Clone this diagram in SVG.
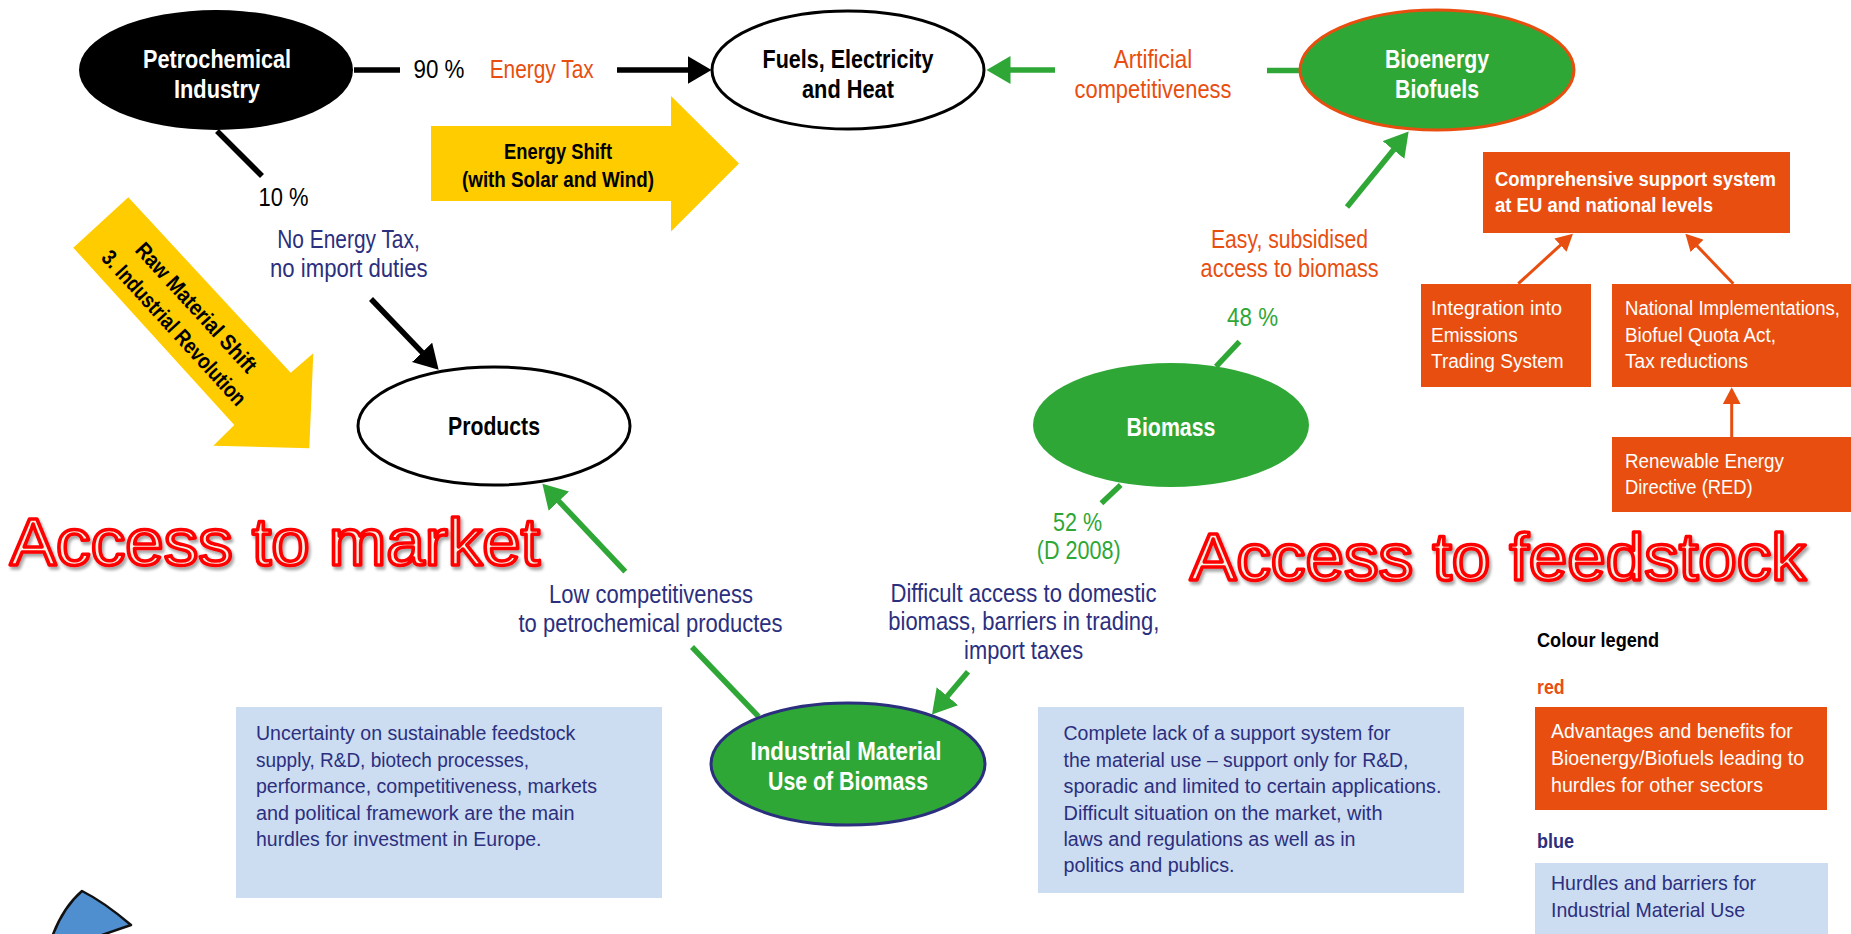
<svg xmlns="http://www.w3.org/2000/svg" width="1851" height="934" viewBox="0 0 1851 934">
<defs>
<style>
.t{font-family:'Liberation Sans Narrow','Liberation Sans',Arial,sans-serif;}
.nd{font-size:26px;font-weight:bold;text-anchor:middle;}
.lb{font-size:25px;text-anchor:middle;}
.bx{font-size:20px;fill:#2b2f7e;}
.ob{font-size:20px;fill:#fff;}
.lg{font-size:21px;}
.navy{fill:#2b2f7e;}
.org{fill:#e84e0f;}
.grn{fill:#2fa736;}
.wht{fill:#fff;}
.blk{fill:#000;}
.big{font-family:'Liberation Sans',Arial,sans-serif;font-size:66px;fill:#f6f2e6;stroke:#ff0000;stroke-width:3.5px;stroke-linejoin:round;filter:url(#sh);}
.cb{stroke:#000;stroke-width:5.5;fill:none;}
.cg{stroke:#2fa736;stroke-width:5.5;fill:none;}
.co{stroke:#e84e0f;stroke-width:3;fill:none;}
</style>
<filter id="sh" x="-5%" y="-20%" width="110%" height="150%">
<feDropShadow dx="2" dy="3" stdDeviation="1.5" flood-color="#000" flood-opacity="0.35"/>
</filter>
<marker id="mb" markerUnits="userSpaceOnUse" markerWidth="25" markerHeight="28" refX="0.5" refY="14" orient="auto"><path d="M0,0 L24,14 L0,28 Z" fill="#000"/></marker>
<marker id="mg" markerUnits="userSpaceOnUse" markerWidth="25" markerHeight="28" refX="0.5" refY="14" orient="auto"><path d="M0,0 L24,14 L0,28 Z" fill="#2fa736"/></marker>
<marker id="mo" markerUnits="userSpaceOnUse" markerWidth="18" markerHeight="18" refX="0.5" refY="9" orient="auto"><path d="M0,0 L17,9 L0,18 Z" fill="#e84e0f"/></marker>
</defs>
<rect x="0" y="0" width="1851" height="934" fill="#fff"/>

<!-- big arrows -->
<g id="energy-shift">
<polygon points="431,126 671,126 671,96 739,163.5 671,231.5 671,201 431,201" fill="#ffcc00"/>
<text class="t blk" font-size="22" font-weight="bold" text-anchor="middle" x="558" y="159" textLength="108" lengthAdjust="spacingAndGlyphs">Energy Shift</text>
<text class="t blk" font-size="22" font-weight="bold" text-anchor="middle" x="558" y="187" textLength="192" lengthAdjust="spacingAndGlyphs">(with Solar and Wind)</text>
</g>
<g id="raw-material-shift">
<polygon points="128.3,197.3 290.7,372.7 313.3,353.3 309.3,448.3 213.3,445.7 234.3,425 73.3,247.7" fill="#ffcc00"/>
<g transform="translate(187,316) rotate(47.5)">
<text class="t blk" font-size="22" font-weight="bold" text-anchor="middle" x="0" y="-5" textLength="168" lengthAdjust="spacingAndGlyphs">Raw Material Shift</text>
<text class="t blk" font-size="22" font-weight="bold" text-anchor="middle" x="0" y="25" textLength="202" lengthAdjust="spacingAndGlyphs">3. Industrial Revolution</text>
</g>
</g>

<!-- connectors -->
<g id="connectors">
<path class="cb" d="M354,70 H400"/>
<path class="cb" d="M617,70 H688" marker-end="url(#mb)"/>
<path class="cb" d="M217,131 L262,176"/>
<path class="cb" d="M371,299 L422.4,352.7" marker-end="url(#mb)"/>
<path class="cg" d="M1299,70.5 H1267"/>
<path class="cg" d="M1055,70 H1010" marker-end="url(#mg)"/>
<path class="cg" d="M1216,366.7 L1239.5,341.7"/>
<path class="cg" d="M1347,207 L1393.8,149.6" marker-end="url(#mg)"/>
<path class="cg" d="M758.6,716.7 L692,647"/>
<path class="cg" d="M625.3,571.7 L558.5,500.8" marker-end="url(#mg)"/>
<path class="cg" d="M1120.7,485 L1101.4,503.3"/>
<path class="cg" d="M968,671.7 L947.1,696.6" marker-end="url(#mg)"/>
<path class="co" d="M1518.3,283.7 L1560.8,244.8" marker-end="url(#mo)"/>
<path class="co" d="M1733.3,283.7 L1696.8,245.6" marker-end="url(#mo)"/>
<path class="co" d="M1731.7,437.3 L1731.7,403.7" marker-end="url(#mo)"/>
</g>

<!-- connector labels -->
<g id="labels">
<text class="t lb blk" x="439" y="78" textLength="51" lengthAdjust="spacingAndGlyphs">90 %</text>
<text class="t lb org" x="541.7" y="78" textLength="104" lengthAdjust="spacingAndGlyphs">Energy Tax</text>
<text class="t lb blk" x="283.6" y="206" textLength="50" lengthAdjust="spacingAndGlyphs">10 %</text>
<text class="t lb navy" x="348.5" y="248" textLength="142.5" lengthAdjust="spacingAndGlyphs">No Energy Tax,</text>
<text class="t lb navy" x="348.8" y="277" textLength="157.5" lengthAdjust="spacingAndGlyphs">no import duties</text>
<text class="t lb org" x="1153" y="68" textLength="78.5" lengthAdjust="spacingAndGlyphs">Artificial</text>
<text class="t lb org" x="1153" y="98" textLength="157" lengthAdjust="spacingAndGlyphs">competitiveness</text>
<text class="t lb org" x="1289.5" y="248" textLength="157" lengthAdjust="spacingAndGlyphs">Easy, subsidised</text>
<text class="t lb org" x="1289.6" y="277" textLength="178" lengthAdjust="spacingAndGlyphs">access to biomass</text>
<text class="t lb grn" x="1252.6" y="326" textLength="51" lengthAdjust="spacingAndGlyphs">48 %</text>
<text class="t lb grn" x="1077.6" y="531" textLength="49" lengthAdjust="spacingAndGlyphs">52 %</text>
<text class="t lb grn" x="1078.8" y="559" textLength="84" lengthAdjust="spacingAndGlyphs">(D 2008)</text>
<text class="t lb navy" x="651" y="603" textLength="204" lengthAdjust="spacingAndGlyphs">Low competitiveness</text>
<text class="t lb navy" x="650.5" y="632" textLength="264" lengthAdjust="spacingAndGlyphs">to petrochemical productes</text>
<text class="t lb navy" x="1023.5" y="602" textLength="266" lengthAdjust="spacingAndGlyphs">Difficult access to domestic</text>
<text class="t lb navy" x="1023.8" y="630" textLength="271" lengthAdjust="spacingAndGlyphs">biomass, barriers in trading,</text>
<text class="t lb navy" x="1023.6" y="659" textLength="119" lengthAdjust="spacingAndGlyphs">import taxes</text>
</g>

<!-- nodes -->
<g id="petrochemical">
<ellipse cx="216" cy="70" rx="137" ry="60" fill="#000"/>
<text class="t nd wht" x="217" y="68" textLength="148" lengthAdjust="spacingAndGlyphs">Petrochemical</text>
<text class="t nd wht" x="217" y="98" textLength="86" lengthAdjust="spacingAndGlyphs">Industry</text>
</g>
<g id="fuels">
<ellipse cx="848" cy="70" rx="136" ry="59" fill="#fff" stroke="#000" stroke-width="3"/>
<text class="t nd blk" x="848" y="68" textLength="171" lengthAdjust="spacingAndGlyphs">Fuels, Electricity</text>
<text class="t nd blk" x="848" y="98" textLength="92" lengthAdjust="spacingAndGlyphs">and Heat</text>
</g>
<g id="bioenergy">
<ellipse cx="1437" cy="70" rx="137" ry="60" fill="#2fa736" stroke="#e84e0f" stroke-width="3"/>
<text class="t nd wht" x="1437" y="68" textLength="104" lengthAdjust="spacingAndGlyphs">Bioenergy</text>
<text class="t nd wht" x="1437" y="98" textLength="84" lengthAdjust="spacingAndGlyphs">Biofuels</text>
</g>
<g id="products">
<ellipse cx="494" cy="426" rx="136" ry="59" fill="#fff" stroke="#000" stroke-width="3"/>
<text class="t nd blk" x="494" y="435" textLength="92" lengthAdjust="spacingAndGlyphs">Products</text>
</g>
<g id="biomass">
<ellipse cx="1171" cy="425" rx="138" ry="62" fill="#2fa736"/>
<text class="t nd wht" x="1171" y="436" textLength="89" lengthAdjust="spacingAndGlyphs">Biomass</text>
</g>
<g id="industrial-material">
<ellipse cx="848" cy="764" rx="137" ry="61" fill="#2fa736" stroke="#2b2f7e" stroke-width="3"/>
<text class="t nd wht" x="846" y="760" textLength="191" lengthAdjust="spacingAndGlyphs">Industrial Material</text>
<text class="t nd wht" x="848" y="790" textLength="160" lengthAdjust="spacingAndGlyphs">Use of Biomass</text>
</g>

<!-- orange support boxes -->
<g id="comprehensive">
<rect x="1483" y="152" width="307" height="81" fill="#e84e0f"/>
<text class="t ob" font-weight="bold" x="1495" y="186" textLength="281" lengthAdjust="spacingAndGlyphs">Comprehensive support system</text>
<text class="t ob" font-weight="bold" x="1495" y="212" textLength="218" lengthAdjust="spacingAndGlyphs">at EU and national levels</text>
</g>
<g id="integration">
<rect x="1421" y="284" width="170" height="103" fill="#e84e0f"/>
<text class="t ob" x="1431" y="315" textLength="131" lengthAdjust="spacingAndGlyphs">Integration into</text>
<text class="t ob" x="1431" y="342" textLength="86.7" lengthAdjust="spacingAndGlyphs">Emissions</text>
<text class="t ob" x="1431" y="368" textLength="132.7" lengthAdjust="spacingAndGlyphs">Trading System</text>
</g>
<g id="national">
<rect x="1612" y="284" width="239" height="103" fill="#e84e0f"/>
<text class="t ob" x="1625" y="315" textLength="215" lengthAdjust="spacingAndGlyphs">National Implementations,</text>
<text class="t ob" x="1625" y="342" textLength="151" lengthAdjust="spacingAndGlyphs">Biofuel Quota Act,</text>
<text class="t ob" x="1625" y="368" textLength="123" lengthAdjust="spacingAndGlyphs">Tax reductions</text>
</g>
<g id="red-directive">
<rect x="1612" y="437" width="239" height="75" fill="#e84e0f"/>
<text class="t ob" x="1625" y="468" textLength="159" lengthAdjust="spacingAndGlyphs">Renewable Energy</text>
<text class="t ob" x="1625" y="494" textLength="127.7" lengthAdjust="spacingAndGlyphs">Directive (RED)</text>
</g>

<!-- blue hurdle boxes -->
<g id="hurdles-left">
<rect x="236" y="707" width="426" height="191" fill="#ccdcf1"/>
<text class="t bx" x="256" y="740" textLength="319.4" lengthAdjust="spacingAndGlyphs">Uncertainty on sustainable feedstock</text>
<text class="t bx" x="256" y="766.5" textLength="273" lengthAdjust="spacingAndGlyphs">supply, R&amp;D, biotech processes,</text>
<text class="t bx" x="256" y="793" textLength="341" lengthAdjust="spacingAndGlyphs">performance, competitiveness, markets</text>
<text class="t bx" x="256" y="819.5" textLength="318.5" lengthAdjust="spacingAndGlyphs">and political framework are the main</text>
<text class="t bx" x="256" y="846" textLength="285.5" lengthAdjust="spacingAndGlyphs">hurdles for investment in Europe.</text>
</g>
<g id="hurdles-right">
<rect x="1038" y="707" width="426" height="186" fill="#ccdcf1"/>
<text class="t bx" x="1063.5" y="740" textLength="327" lengthAdjust="spacingAndGlyphs">Complete lack of a support system for</text>
<text class="t bx" x="1063.5" y="766.5" textLength="345" lengthAdjust="spacingAndGlyphs">the material use – support only for R&amp;D,</text>
<text class="t bx" x="1063.5" y="793" textLength="378" lengthAdjust="spacingAndGlyphs">sporadic and limited to certain applications.</text>
<text class="t bx" x="1063.5" y="819.5" textLength="319" lengthAdjust="spacingAndGlyphs">Difficult situation on the market, with</text>
<text class="t bx" x="1063.5" y="846" textLength="292" lengthAdjust="spacingAndGlyphs">laws and regulations as well as in</text>
<text class="t bx" x="1063.5" y="872" textLength="171" lengthAdjust="spacingAndGlyphs">politics and publics.</text>
</g>

<!-- headline texts -->
<g id="access-market">
<text class="big" x="10" y="565" textLength="530" lengthAdjust="spacingAndGlyphs">Access to market</text>
</g>
<g id="access-feedstock">
<text class="big" x="1190" y="580" font-size="67" textLength="616" lengthAdjust="spacingAndGlyphs">Access to feedstock</text>
</g>

<!-- legend -->
<g id="legend">
<text class="t lg blk" font-weight="bold" x="1537" y="647" textLength="122" lengthAdjust="spacingAndGlyphs">Colour legend</text>
<text class="t lg org" font-weight="bold" x="1537" y="694" textLength="27.6" lengthAdjust="spacingAndGlyphs">red</text>
<rect x="1535" y="707" width="292" height="103" fill="#e84e0f"/>
<text class="t lg wht" x="1551" y="738" textLength="241.7" lengthAdjust="spacingAndGlyphs">Advantages and benefits for</text>
<text class="t lg wht" x="1551" y="765" textLength="253" lengthAdjust="spacingAndGlyphs">Bioenergy/Biofuels leading to</text>
<text class="t lg wht" x="1551" y="792" textLength="212" lengthAdjust="spacingAndGlyphs">hurdles for other sectors</text>
<text class="t lg navy" font-weight="bold" x="1537" y="848" textLength="37" lengthAdjust="spacingAndGlyphs">blue</text>
<rect x="1535" y="863" width="293" height="71" fill="#ccdcf1"/>
<text class="t lg navy" x="1551" y="890" textLength="205" lengthAdjust="spacingAndGlyphs">Hurdles and barriers for</text>
<text class="t lg navy" x="1551" y="917" textLength="194" lengthAdjust="spacingAndGlyphs">Industrial Material Use</text>
</g>

<!-- blue wedge -->
<path d="M82,891 Q104,902 131,925 L70,946 L49,946 Q60,910 82,891 Z" fill="#4f8fd0" stroke="#111" stroke-width="2.5" stroke-linejoin="round"/>
</svg>
